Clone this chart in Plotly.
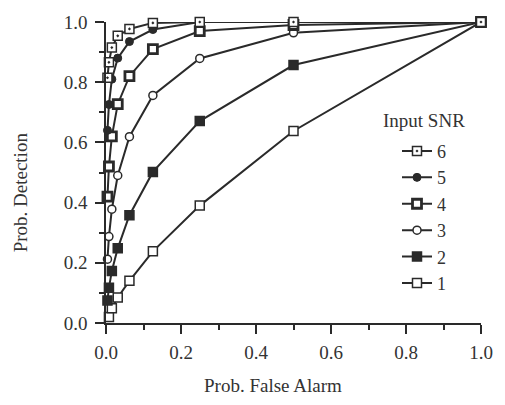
import plotly.graph_objects as go

# Probability of false alarm (x) values
pfa_all = [0.0039, 0.0078, 0.0156, 0.0313, 0.0625, 0.125, 0.25, 0.5, 1.0]
pfa_snr1 = [0.0078, 0.0156, 0.0313, 0.0625, 0.125, 0.25, 0.5, 1.0]

# Probability of detection per input SNR
pd_snr1 = [0.02, 0.049, 0.085, 0.14, 0.238, 0.39, 0.638, 1.0]
pd_snr2 = [0.075, 0.117, 0.173, 0.248, 0.358, 0.502, 0.671, 0.857, 1.0]
pd_snr3 = [0.212, 0.287, 0.378, 0.49, 0.619, 0.756, 0.879, 0.964, 1.0]
pd_snr4 = [0.42, 0.52, 0.62, 0.727, 0.82, 0.91, 0.97, 0.99, 1.0]
pd_snr5 = [0.64, 0.726, 0.81, 0.88, 0.935, 0.975, 1.0, 1.0, 1.0]
pd_snr6 = [0.815, 0.866, 0.915, 0.954, 0.977, 0.997, 1.0, 1.0, 1.0]

snr_labels = ["1", "2", "3", "4", "5", "6"]

INK = "#2a2a2a"
FONT = "Liberation Serif"

series = [
    (pfa_snr1, pd_snr1, dict(symbol="square", size=9, color="white", line=dict(color=INK, width=1.5))),
    (pfa_all, pd_snr2, dict(symbol="square", size=9, color=INK, line=dict(color=INK, width=1.5))),
    (pfa_all, pd_snr3, dict(symbol="circle", size=8, color="white", line=dict(color=INK, width=1.5))),
    (pfa_all, pd_snr4, dict(symbol="square", size=9, color="white", line=dict(color=INK, width=2.8))),
    (pfa_all, pd_snr5, dict(symbol="circle", size=8, color=INK, line=dict(color=INK, width=1))),
    (pfa_all, pd_snr6, dict(symbol="square-dot", size=9, color="white", line=dict(color=INK, width=1.5))),
]

fig = go.Figure()
for lbl, (xs, ys, mk) in zip(snr_labels, series):
    fig.add_trace(go.Scatter(
        x=xs, y=ys, mode="lines+markers", name=lbl,
        line=dict(color=INK, width=2), marker=mk, cliponaxis=False,
    ))

axis_common = dict(
    showline=True, linecolor=INK, linewidth=1.5, showgrid=False, zeroline=False,
    ticks="outside", ticklen=9, tickwidth=1.5, tickcolor=INK,
    tickfont=dict(family=FONT, size=19, color="#333"),
    minor=dict(dtick=0.1, ticks="outside", ticklen=5, tickwidth=1.5, tickcolor=INK),
    dtick=0.2, tickformat=".1f", range=[0, 1],
)

fig.update_layout(
    width=505, height=405,
    margin=dict(l=106, r=21, t=16, b=82),
    paper_bgcolor="white", plot_bgcolor="white",
    font=dict(family=FONT, size=19, color="#333"),
    xaxis=dict(**axis_common, ticklabelstandoff=2),
    yaxis=dict(**axis_common, ticklabelstandoff=4),
    showlegend=True,
    legend=dict(
        x=0.776, y=0.632, xanchor="left", yanchor="top",
        traceorder="reversed", itemwidth=30,
        font=dict(family=FONT, size=18, color="#333"),
        bgcolor="rgba(0,0,0,0)",
    ),
    annotations=[
        dict(text="Input SNR", x=0.849, y=0.674, xref="paper", yref="paper",
             xanchor="center", yanchor="middle",
             showarrow=False, font=dict(family=FONT, size=19, color="#333")),
        dict(text="Prob. False Alarm", x=0.444, y=-0.2085, xref="paper", yref="paper",
             xanchor="center", yanchor="middle",
             showarrow=False, font=dict(family=FONT, size=19, color="#333")),
        dict(text="Prob. Detection", x=-0.2275, y=0.433, xref="paper", yref="paper",
             xanchor="center", yanchor="middle",
             showarrow=False, textangle=-90, font=dict(family=FONT, size=19, color="#333")),
    ],
)

fig.write_html("out.html")
